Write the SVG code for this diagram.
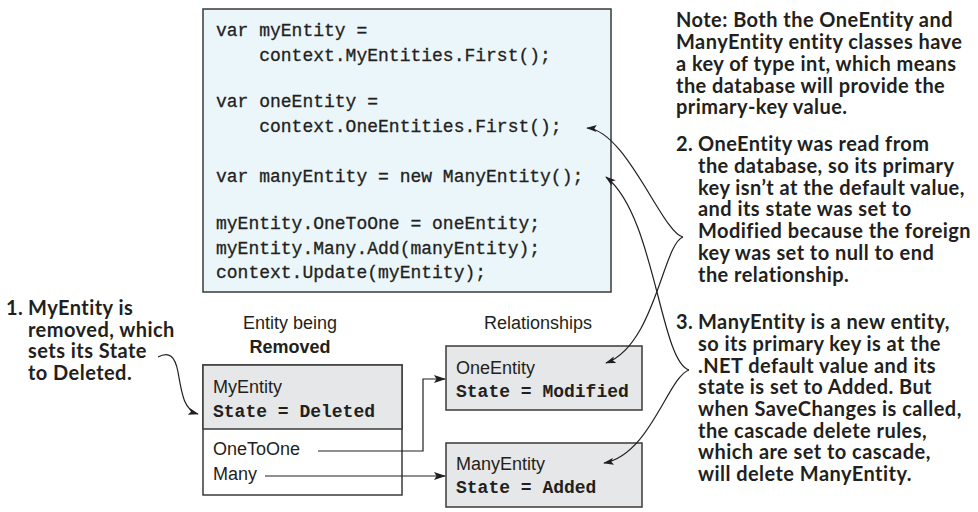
<svg xmlns="http://www.w3.org/2000/svg" width="978" height="512" viewBox="0 0 978 512">
  <defs>
    <marker id="arr" viewBox="0 0 12 8" refX="11" refY="4" markerWidth="12" markerHeight="8" markerUnits="userSpaceOnUse" orient="auto">
      <path d="M0,0 L12,4 L0,8 L2.5,4 z" fill="#231f20"/>
    </marker>
    <marker id="arrs" viewBox="0 0 12 8" refX="11" refY="4" markerWidth="11" markerHeight="7" markerUnits="userSpaceOnUse" orient="auto">
      <path d="M0,0 L12,4 L0,8 L2.5,4 z" fill="#231f20"/>
    </marker>
  </defs>
  <style>
    .code { font-family: "Liberation Mono", "Courier New", monospace; font-size: 18px; fill: #231f20; stroke: #231f20; stroke-width: 0.3; }
    .codeb { font-family: "Liberation Mono", "Courier New", monospace; font-size: 18px; font-weight: bold; fill: #231f20; }
    .lbl { font-family: "Liberation Sans", Arial, sans-serif; font-size: 18px; fill: #231f20; }
    .lblb { font-family: "Liberation Sans", Arial, sans-serif; font-size: 18px; font-weight: bold; fill: #231f20; }
    .note { font-family: Lato, "Open Sans", sans-serif; font-size: 20px; font-weight: bold; letter-spacing: 0.45px; fill: #231f20; }
    .box { stroke: #3a3a3a; stroke-width: 1.5; }
    .conn { fill: none; stroke: #231f20; stroke-width: 1.2; }
  </style>

  <g id="code">
    <rect class="box" x="203" y="9" width="408" height="283" fill="#ebf6fb"/>
    <text class="code" xml:space="preserve"><tspan x="216" y="36">var myEntity =</tspan><tspan x="216" y="61">    context.MyEntities.First();</tspan><tspan x="216" y="107">var oneEntity =</tspan><tspan x="216" y="132">    context.OneEntities.First();</tspan><tspan x="216" y="182">var manyEntity = new ManyEntity();</tspan><tspan x="216" y="229">myEntity.OneToOne = oneEntity;</tspan><tspan x="216" y="254">myEntity.Many.Add(manyEntity);</tspan><tspan x="216" y="278">context.Update(myEntity);</tspan></text>
  </g>

  <g id="note-top">
    <text class="note"><tspan x="676" y="27">Note: Both the OneEntity and</tspan><tspan x="676" y="49">ManyEntity entity classes have</tspan><tspan x="676" y="71">a key of type int, which means</tspan><tspan x="676" y="93">the database will provide the</tspan><tspan x="676" y="114">primary-key value.</tspan></text>
  </g>

  <g id="note-2">
    <text class="note"><tspan x="676" y="151">2.</tspan><tspan x="698" y="151">OneEntity was read from</tspan><tspan x="698" y="173">the database, so its primary</tspan><tspan x="698" y="195">key isn’t at the default value,</tspan><tspan x="698" y="216">and its state was set to</tspan><tspan x="698" y="238">Modified because the foreign</tspan><tspan x="698" y="260">key was set to null to end</tspan><tspan x="698" y="282">the relationship.</tspan></text>
  </g>

  <g id="note-3">
    <text class="note"><tspan x="676" y="329">3.</tspan><tspan x="698" y="329">ManyEntity is a new entity,</tspan><tspan x="698" y="351">so its primary key is at the</tspan><tspan x="698" y="373">.NET default value and its</tspan><tspan x="698" y="394">state is set to Added. But</tspan><tspan x="698" y="416">when SaveChanges is called,</tspan><tspan x="698" y="438">the cascade delete rules,</tspan><tspan x="698" y="459">which are set to cascade,</tspan><tspan x="698" y="481">will delete ManyEntity.</tspan></text>
  </g>

  <g id="note-1">
    <text class="note"><tspan x="6" y="315">1.</tspan><tspan x="28" y="315">MyEntity is</tspan><tspan x="28" y="337">removed, which</tspan><tspan x="28" y="358">sets its State</tspan><tspan x="28" y="380">to Deleted.</tspan></text>
  </g>

  <g id="label-removed">
    <text class="lbl" x="290" y="329" text-anchor="middle">Entity being</text>
    <text class="lblb" x="290" y="353" text-anchor="middle">Removed</text>
  </g>

  <g id="label-relationships">
    <text class="lbl" x="538" y="329" text-anchor="middle">Relationships</text>
  </g>

  <g id="my-entity">
    <rect class="box" x="203" y="365" width="199" height="130" fill="#ffffff"/>
    <rect class="box" x="203" y="365" width="199" height="64" fill="#e6e7e8"/>
    <text class="lbl" x="213" y="393">MyEntity</text>
    <text class="codeb" x="213" y="417" xml:space="preserve">State = Deleted</text>
    <text class="lbl" x="213" y="455">OneToOne</text>
    <text class="lbl" x="213" y="480">Many</text>
  </g>

  <g id="one-entity">
    <rect class="box" x="446" y="346" width="196" height="64" fill="#e6e7e8"/>
    <text class="lbl" x="456" y="374">OneEntity</text>
    <text class="codeb" x="456" y="397" xml:space="preserve">State = Modified</text>
  </g>

  <g id="many-entity">
    <rect class="box" x="446" y="443" width="196" height="64" fill="#e6e7e8"/>
    <text class="lbl" x="456" y="470">ManyEntity</text>
    <text class="codeb" x="456" y="493" xml:space="preserve">State = Added</text>
  </g>

  <g id="connectors">
    <polyline class="conn" points="318,451 423,451 423,379 445,379" marker-end="url(#arr)"/>
    <polyline class="conn" points="265,476 445,476" marker-end="url(#arr)"/>
    <path class="conn" d="M158,357 C169,351 175,356 178,372 C182,395 184,410 198,414" marker-end="url(#arrs)"/>
    <path class="conn" d="M683,237 C663,234 626,130 587,128" marker-end="url(#arrs)"/>
    <path class="conn" d="M683,237 C663,244 655,345 606,363" marker-end="url(#arrs)"/>
    <path class="conn" d="M689,370 C660,361 655,215 606,177" marker-end="url(#arrs)"/>
    <path class="conn" d="M689,370 C668,377 650,455 604,463" marker-end="url(#arrs)"/>
  </g>
</svg>
